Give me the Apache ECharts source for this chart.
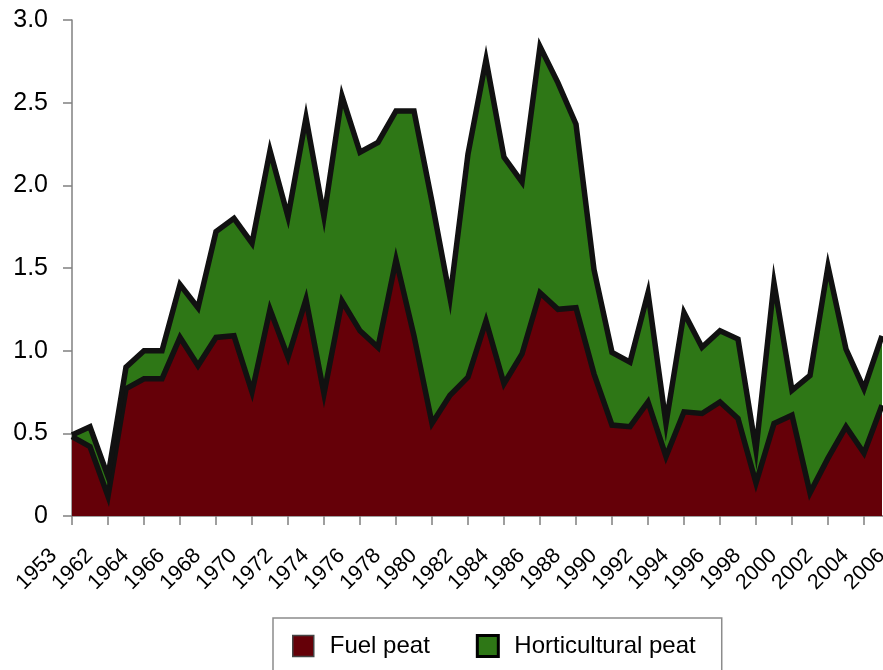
<!DOCTYPE html>
<html>
<head>
<meta charset="utf-8">
<script src="https://cdn.jsdelivr.net/npm/echarts@6/dist/echarts.min.js"></script>
<style>
html, body { margin: 0; padding: 0; background: #ffffff; }
#chart { width: 883px; height: 670px; }
</style>
</head>
<body>
<div id="chart"></div>
<script>
// Categories (years); label shown on every second one
const years = ['1953','1961','1962','1963','1964','1965','1966','1967','1968','1969',
  '1970','1971','1972','1973','1974','1975','1976','1977','1978','1979',
  '1980','1981','1982','1983','1984','1985','1986','1987','1988','1989',
  '1990','1991','1992','1993','1994','1995','1996','1997','1998','1999',
  '2000','2001','2002','2003','2004','2005','2006'];

// Fuel peat (bottom layer)
const fuelPeat = [0.48, 0.42, 0.12, 0.77, 0.83, 0.83, 1.08, 0.91, 1.08, 1.09,
  0.75, 1.25, 0.96, 1.31, 0.74, 1.30, 1.12, 1.02, 1.55, 1.09,
  0.56, 0.73, 0.84, 1.18, 0.80, 0.98, 1.35, 1.25, 1.26, 0.86,
  0.55, 0.54, 0.69, 0.36, 0.63, 0.62, 0.69, 0.59, 0.20, 0.56,
  0.61, 0.14, 0.35, 0.54, 0.38, 0.67];

// Horticultural peat (stacked on top)
const horticulturalPeat = [0.01, 0.12, 0.12, 0.13, 0.17, 0.17, 0.32, 0.35, 0.64, 0.71,
  0.90, 0.96, 0.85, 1.10, 1.07, 1.24, 1.08, 1.24, 0.90, 1.36,
  1.34, 0.59, 1.35, 1.58, 1.37, 1.04, 1.49, 1.37, 1.11, 0.63,
  0.44, 0.39, 0.66, 0.20, 0.60, 0.40, 0.43, 0.48, 0.20, 0.85,
  0.15, 0.71, 1.16, 0.47, 0.39, 0.42];

const yMin = 0, yMax = 3, yStep = 0.5;

const FONT = 'Liberation Sans, Arial, Helvetica, sans-serif';
const FUEL_COLOR = '#650008';
const HORT_COLOR = '#2e7716';
const OUTLINE = '#111111';

const chart = echarts.init(document.getElementById('chart'), null, { renderer: 'canvas' });

const outlineStyle = { color: OUTLINE, width: 5.5, join: 'miter', miterLimit: 20, cap: 'butt' };

chart.setOption({
  animation: false,
  backgroundColor: '#ffffff',
  textStyle: { fontFamily: FONT },
  grid: { left: 72, right: -17, top: 20, bottom: 154, containLabel: false, outerBoundsMode: 'none' },
  legend: {
    data: [
      { name: 'Fuel peat', itemStyle: { color: FUEL_COLOR, borderColor: '#444444', borderWidth: 1.5 } },
      { name: 'Horticultural peat', itemStyle: { color: HORT_COLOR, borderColor: '#000000', borderWidth: 3 } }
    ],
    icon: 'rect',
    itemWidth: 21,
    itemHeight: 21,
    itemGap: 46,
    left: 273,
    top: 618,
    padding: [16, 26, 40, 19],
    borderColor: '#8c8c8c',
    borderWidth: 1.5,
    borderRadius: 0,
    selectedMode: false,
    textStyle: { fontSize: 24, color: '#000000', fontFamily: FONT, padding: [0, 0, 0, 11] }
  },
  xAxis: {
    type: 'category',
    data: years,
    boundaryGap: false,
    axisLine: { lineStyle: { color: '#808080', width: 1.5 } },
    axisTick: { interval: 1, length: 9, lineStyle: { color: '#808080', width: 1.5 } },
    axisLabel: {
      interval: 1,
      rotate: 45,
      fontSize: 21.5,
      color: '#000000',
      fontFamily: FONT,
      margin: 18,
      padding: [0, 26, 0, 0],
      hideOverlap: false
    },
    splitLine: { show: false }
  },
  yAxis: {
    type: 'value',
    min: yMin,
    max: yMax,
    interval: yStep,
    axisLine: { show: true, lineStyle: { color: '#808080', width: 1.5 } },
    axisTick: { show: true, length: 9, lineStyle: { color: '#808080', width: 1.5 } },
    axisLabel: {
      fontSize: 25,
      color: '#000000',
      fontFamily: FONT,
      margin: 24,
      formatter: v => (v === 0 ? '0' : v.toFixed(1))
    },
    splitLine: { show: false }
  },
  series: [
    {
      name: 'Fuel peat', type: 'line', stack: 'area', data: fuelPeat,
      color: FUEL_COLOR, symbol: 'none', z: 1,
      lineStyle: { width: 0, opacity: 0 },
      areaStyle: { color: FUEL_COLOR, opacity: 1 }
    },
    {
      name: 'Horticultural peat', type: 'line', stack: 'area', data: horticulturalPeat,
      color: HORT_COLOR, symbol: 'none', z: 1,
      lineStyle: { width: 0, opacity: 0 },
      areaStyle: { color: HORT_COLOR, opacity: 1 }
    },
    {
      name: 'Fuel peat outline', type: 'line', stack: 'outline', data: fuelPeat,
      symbol: 'none', z: 3, lineStyle: outlineStyle, silent: true
    },
    {
      name: 'Horticultural peat outline', type: 'line', stack: 'outline', data: horticulturalPeat,
      symbol: 'none', z: 3, lineStyle: outlineStyle, silent: true
    }
  ]
});
</script>
</body>
</html>
